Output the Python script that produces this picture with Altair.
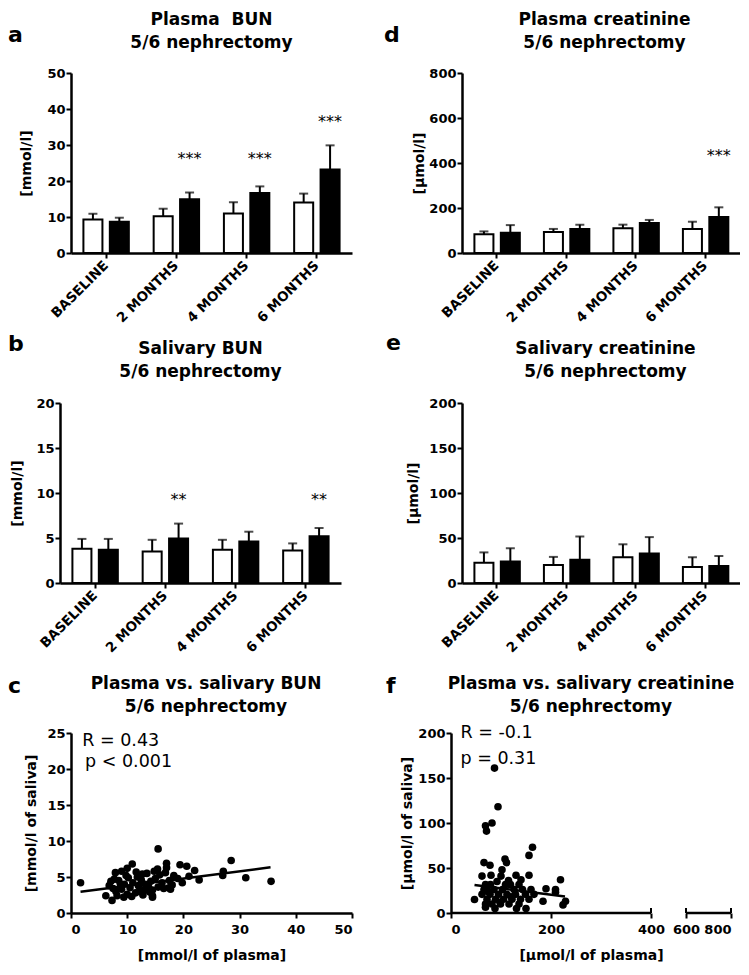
import altair as alt
import pandas as pd

# ---------------- data ----------------
cats = ["BASELINE", "2 MONTHS", "4 MONTHS", "6 MONTHS"]
groups = ["control", "nephrectomy"]

# a: plasma BUN [mmol/l]
a_white = [9.3, 10.2, 11.0, 14.0]
a_white_top = [10.9, 12.3, 14.1, 16.5]
a_black = [8.7, 14.9, 16.7, 23.2]
a_black_top = [9.8, 16.8, 18.5, 29.9]
a_stars = ["", "***", "***", "***"]
a_star_y = [0, 27.0, 27.0, 37.2]

# b: salivary BUN [mmol/l]
b_white = [3.8, 3.5, 3.7, 3.6]
b_white_top = [4.9, 4.8, 4.8, 4.4]
b_black = [3.7, 4.95, 4.6, 5.2]
b_black_top = [4.9, 6.6, 5.7, 6.1]
b_stars = ["", "**", "", "**"]
b_star_y = [0, 9.6, 0, 9.6]

# d: plasma creatinine [umol/l]
d_white = [83, 93, 110, 107]
d_white_top = [96, 107, 126, 139]
d_black = [90, 107, 133, 160]
d_black_top = [124, 126, 147, 203]
d_stars = ["", "", "", "***"]
d_star_y = [0, 0, 0, 443]

# e: salivary creatinine [umol/l]
e_white = [22.5, 20, 28.6, 17.9]
e_white_top = [34, 29, 43, 28.6]
e_black = [24, 25.7, 32.9, 19]
e_black_top = [38.6, 51.8, 51, 30]
e_stars = ["", "", "", ""]
e_star_y = [0, 0, 0, 0]

# c: plasma vs salivary BUN (x = plasma, y = saliva)
c_x = [1.7, 35.6, 31.1, 28.5, 27.1, 27.0, 22.8, 21.0, 22.0, 20.6, 19.4, 17.0, 17.0, 15.5,
       15.4, 13.5, 18.3, 18.3, 17.4, 17.7, 14.5, 14.5, 14.5, 7.3, 6.2, 6.8, 7.7, 7.9,
       10.9, 10.0, 9.0, 11.6, 8.5, 9.5, 10.5, 11.0, 12.0, 12.5, 13.0, 8.0, 9.0, 10.0,
       11.5, 12.8, 13.8, 14.2, 15.0, 15.8, 16.2, 15.5, 16.5, 8.2, 9.4, 10.8, 12.2, 13.2,
       11.8, 10.2, 9.8, 7.5, 8.8, 14.8, 16.8, 17.5, 19.0, 19.8, 12.7, 14.0, 18.0, 7.1]
c_y = [4.2, 4.4, 4.9, 7.3, 5.8, 5.2, 4.6, 5.1, 5.9, 6.5, 6.7, 6.9, 6.3, 8.9,
       6.1, 5.5, 5.2, 5.0, 3.5, 3.3, 2.4, 2.2, 3.2, 1.75, 2.4, 3.8, 4.7, 5.6,
       6.8, 6.2, 5.8, 5.7, 4.5, 4.0, 3.5, 4.2, 3.8, 4.6, 3.2, 3.0, 3.3, 2.6,
       2.8, 2.5, 3.6, 4.4, 4.8, 5.3, 4.2, 3.6, 3.4, 2.4, 2.2, 2.3, 3.0, 4.0,
       5.0, 4.9, 5.2, 3.4, 4.0, 5.8, 5.6, 4.5, 4.8, 4.2, 5.4, 2.9, 3.9, 4.4]
c_fit_x = [1.7, 35.5]
c_fit_y = [2.95, 6.35]
c_notes = ["R = 0.43", "p < 0.001"]
c_note_x = [2.0, 2.5]
c_note_y = [23.9, 21.0]

# f: plasma vs salivary creatinine
f_x = [87, 94, 82, 69, 71, 163, 156, 108, 111, 66, 78, 102, 100, 62, 80, 130, 140, 156,
       219, 190, 209, 209, 184, 229, 224, 47, 131, 150, 88, 69,
       69, 79, 109, 119, 136, 66, 86, 103, 126, 143, 160, 62, 78, 95, 112, 129, 149, 166,
       72, 89, 105, 122, 139, 156, 69, 82, 99, 116, 136, 92, 115, 74, 98, 120]
f_y = [161, 118, 100, 97, 91, 73, 64, 60, 56, 56, 53, 48, 41, 41, 42, 42, 37, 42,
       37, 27, 26, 23, 13, 13, 9, 15, 5, 5, 5, 6.5,
       31.5, 31.5, 31.5, 31.5, 31.5, 26, 26, 26, 26, 26, 26, 20.7, 20.7, 20.7, 20.7, 20.7, 20.7, 20.7,
       15.3, 15.3, 15.3, 15.3, 15.3, 15.3, 10, 10, 10, 10, 10, 35, 36, 24, 12, 18]
f_fit_x = [47, 228]
f_fit_y = [31, 18.3]
f_notes = ["R = -0.1", "p = 0.31"]
f_note_x = [19, 19]
f_note_y = [200, 171.5]
f_axis_start = [0, 600]
f_axis_end = [400, 800]
f_break_ticks = [400, 600, 800]

FONT = "DejaVu Sans"
PH = 180       # plot height


def letter_layer(letter, dx, dy):
    return alt.Chart(pd.DataFrame({"t": [letter]})).mark_text(
        align="left", baseline="alphabetic", fontSize=22, fontWeight="bold",
        font=FONT, color="black"
    ).encode(text="t:N", x=alt.value(dx), y=alt.value(dy))


def bar_panel(white, white_top, black, black_top, stars, star_y, ymax, ystep,
              ytitle, ytitle_x, title_lines, title_dx, title_off,
              letter, ldx, ldy, pw, shift):
    df = pd.DataFrame({
        "cat": cats * 2,
        "grp": [groups[0]] * 4 + [groups[1]] * 4,
        "val": white + black,
        "top": white_top + black_top,
    })
    sdf = pd.DataFrame({"cat": cats, "grp": [groups[1]] * 4, "y": star_y, "txt": stars})
    sdf = sdf[sdf["txt"] != ""]
    yvals = list(range(0, ymax + 1, ystep))
    x = alt.X("cat:N", sort=cats,
              scale=alt.Scale(domain=cats, range=[shift, shift + pw],
                              paddingInner=0, paddingOuter=0),
              axis=alt.Axis(title=None, labelAngle=-45, labelAlign="right",
                            labelBaseline="middle", labelFontSize=13.5, labelPadding=5))
    xo = alt.XOffset("grp:N", sort=groups,
                     scale=alt.Scale(domain=groups, paddingInner=0.28, paddingOuter=0.47))
    y = alt.Y("val:Q", scale=alt.Scale(domain=[0, ymax], nice=False),
              axis=alt.Axis(values=yvals, tickCount=len(yvals), title=ytitle,
                            titleX=ytitle_x, titleBaseline="middle", offset=-shift))
    bars = alt.Chart(df).mark_bar(stroke="black", strokeWidth=2).encode(
        x=x, xOffset=xo, y=y,
        color=alt.Color("grp:N", scale=alt.Scale(domain=groups, range=["white", "black"]),
                        legend=None))
    err = alt.Chart(df).mark_rule(color="black", strokeWidth=2).encode(
        x=x, xOffset=xo, y="val:Q", y2="top:Q")
    cap = alt.Chart(df).mark_tick(color="black", thickness=2, size=9).encode(
        x=x, xOffset=xo, y="top:Q")
    layers = [bars, err, cap]
    if len(sdf):
        st = alt.Chart(sdf).mark_text(fontSize=16, font=FONT, color="black",
                                      baseline="alphabetic", dy=8).encode(
            x=x, xOffset=xo, y="y:Q", text="txt:N")
        layers.append(st)
    layers.append(letter_layer(letter, ldx, ldy))
    return alt.layer(*layers).properties(
        width=shift + pw, height=PH,
        title=alt.Title(title_lines, dx=title_dx, offset=title_off))


def scatter(xs, ys, fx, fy, notes, nx, ny, xscale, xvals, ydom, yvals, xtitle,
            ytitle, ytitle_x, width, shift, letter, ldx, ldy, title_lines, title_dx,
            title_off, broken=False):
    df = pd.DataFrame({"x": xs, "y": ys})
    fit = pd.DataFrame({"x": fx, "y": fy})
    nd = pd.DataFrame({"x": nx, "y": ny, "t": notes})
    axkw = dict(values=xvals, tickCount=len(xvals), title=xtitle, titleY=42,
                titleBaseline="middle", labelPadding=5)
    if broken:
        axkw["domain"] = False
    xenc = alt.X("x:Q", scale=xscale, axis=alt.Axis(**axkw))
    yenc = alt.Y("y:Q", scale=alt.Scale(domain=ydom, nice=False),
                 axis=alt.Axis(values=yvals, tickCount=len(yvals), title=ytitle,
                               titleX=ytitle_x, titleBaseline="middle", offset=-shift))
    pts = alt.Chart(df).mark_circle(size=58, color="black", opacity=1).encode(x=xenc, y=yenc)
    ln = alt.Chart(fit).mark_line(color="black", strokeWidth=2.5).encode(x="x:Q", y="y:Q")
    tx = alt.Chart(nd).mark_text(align="left", baseline="middle", fontSize=17.5, font=FONT,
                                 color="black").encode(x="x:Q", y="y:Q", text="t:N")
    layers = [pts, ln, tx]
    if broken:
        segs = pd.DataFrame({"x": f_axis_start, "x2": f_axis_end})
        dom = alt.Chart(segs).mark_rule(color="black", strokeWidth=2.5).encode(
            x="x:Q", x2="x2:Q", y=alt.datum(0))
        brk = alt.Chart(pd.DataFrame({"x": f_break_ticks})).mark_rule(
            color="black", strokeWidth=2).encode(
            x="x:Q", y=alt.value(PH - 5), y2=alt.value(PH))
        layers += [dom, brk]
    layers.append(letter_layer(letter, ldx, ldy))
    return alt.layer(*layers).properties(
        width=width, height=PH,
        title=alt.Title(title_lines, dx=title_dx, offset=title_off))


a = bar_panel(a_white, a_white_top, a_black, a_black_top, a_stars, a_star_y, 50, 10,
              "[mmol/l]", -45, ["Plasma\u00a0 BUN", "5/6 nephrectomy"], 5.5, -28,
              "a", -52, -31, 281, 11)
d = bar_panel(d_white, d_white_top, d_black, d_black_top, d_stars, d_star_y, 800, 200,
              "[µmol/l]", -43, ["Plasma creatinine", "5/6 nephrectomy"], 9, -28,
              "d", -67, -31, 278, 11)
b = bar_panel(b_white, b_white_top, b_black, b_black_top, b_stars, b_star_y, 20, 5,
              "[mmol/l]", -43, ["Salivary BUN", "5/6 nephrectomy"], 0, -48,
              "b", -52, -52, 281, 0)
e = bar_panel(e_white, e_white_top, e_black, e_black_top, e_stars, e_star_y, 200, 50,
              "[µmol/l]", -49, ["Salivary creatinine", "5/6 nephrectomy"], 10, -49,
              "e", -65, -53, 278, 11)

c = scatter(c_x, c_y, c_fit_x, c_fit_y, c_notes, c_note_x, c_note_y,
            alt.Scale(domain=[0, 50], range=[11, 292], nice=False),
            [0, 10, 20, 30, 40, 50], [0, 25], [0, 5, 10, 15, 20, 25],
            "[mmol/l of plasma]", "[mmol/l of saliva]", -40, 292, 11, "c", -52, -40,
            ["Plasma vs. salivary BUN", "5/6 nephrectomy"], 0, -41)
f = scatter(f_x, f_y, f_fit_x, f_fit_y, f_notes, f_note_x, f_note_y,
            alt.Scale(domain=[0, 400, 600, 800], range=[0, 200, 235, 280]),
            [0, 200, 400, 600, 800], [0, 200], [0, 50, 100, 150, 200],
            "[µmol/l of plasma]", "[µmol/l of saliva]", -44, 280, 0, "f", -65, -40,
            ["Plasma vs. salivary creatinine", "5/6 nephrectomy"], 0, -41, broken=True)

chart = alt.concat(
    a, d, b, e, c, f,
    columns=2, spacing={"row": 150, "column": 99}, bounds="flush"
).properties(
    padding={"top": 3, "left": 0, "right": 0, "bottom": 0}
).configure_view(stroke=None).configure_axis(
    domainColor="black", domainWidth=2.5, tickColor="black", tickWidth=2, tickSize=5,
    labelColor="black", labelFont=FONT, labelFontWeight="bold", labelFontSize=13,
    labelPadding=1, labelOverlap=False, titleFont=FONT, titleFontWeight="bold",
    titleFontSize=14, titleColor="black", grid=False
).configure_title(
    font=FONT, fontSize=17, fontWeight="bold", color="black", anchor="middle",
    frame="group", baseline="bottom", lineHeight=23
)

chart.save("out.html", embed_options={"renderer": "svg", "actions": False})
